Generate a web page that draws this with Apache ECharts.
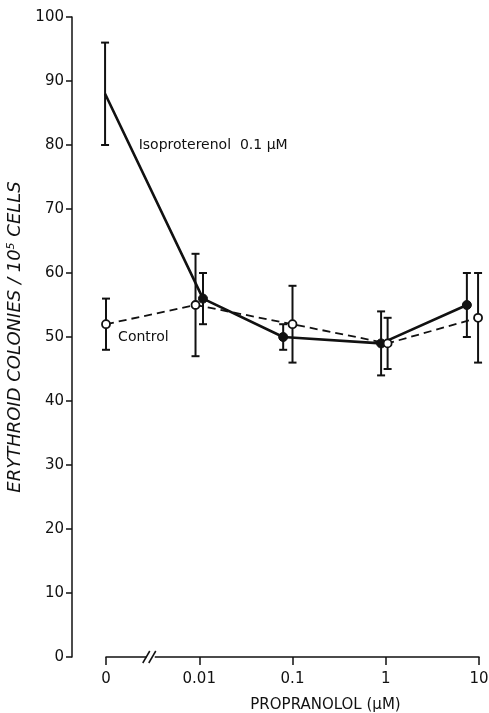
<!DOCTYPE html>
<html>
<head>
<meta charset="utf-8">
<script src="https://cdn.jsdelivr.net/npm/echarts@6/dist/echarts.min.js"></script>
<style>
  html, body { margin: 0; padding: 0; background: #fff; }
  #chart { width: 489px; height: 713px; }
</style>
</head>
<body>
<div id="chart"></div>
<script>
// x positions on a log10 scale; "0" sits one decade left of 0.01 (behind the axis break)
const tickPos = [-3, -2, -1, 0, 1];
const tickLabels = ['0', '0.01', '0.1', '1', '10'];

// Isoproterenol 0.1 uM (filled dots, solid line)
const isoX = [-3.01, -1.96, -1.10, -0.05, 0.87];
const isoY = [88, 56, 50, 49, 55];
const isoErr = [8, 4, 2, 5, 5];

// Control (open dots, dashed line)
const ctrlX = [-3, -2.04, -1.0, 0.02, 0.99];
const ctrlY = [52, 55, 52, 49, 53];
const ctrlErr = [4, 8, 6, 4, 7];

const yTicks = [0, 10, 20, 30, 40, 50, 60, 70, 80, 90, 100];

const font = 'DejaVu Sans';
const ink = '#111';

function pairs(xs, ys) {
  return xs.map((x, i) => [x, ys[i]]);
}
function errData(xs, ys, es) {
  return xs.map((x, i) => [x, ys[i] - es[i], ys[i] + es[i]]);
}

function errRender(params, api) {
  const x = api.value(0);
  const lo = api.coord([x, api.value(1)]);
  const hi = api.coord([x, api.value(2)]);
  const w = 4;
  const style = { stroke: ink, lineWidth: 2, fill: null };
  return {
    type: 'group',
    children: [
      { type: 'line', shape: { x1: lo[0], y1: lo[1], x2: hi[0], y2: hi[1] }, style: style },
      { type: 'line', shape: { x1: lo[0] - w, y1: lo[1], x2: lo[0] + w, y2: lo[1] }, style: style },
      { type: 'line', shape: { x1: hi[0] - w, y1: hi[1], x2: hi[0] + w, y2: hi[1] }, style: style }
    ]
  };
}

const chart = echarts.init(document.getElementById('chart'));

let option = {
  animation: false,
  backgroundColor: '#fff',
  grid: { left: 106, right: 10, top: 17, bottom: 56, containLabel: false, outerBoundsMode: 'none' },
  xAxis: {
    type: 'value',
    min: tickPos[0],
    max: tickPos[tickPos.length - 1],
    interval: 1,
    name: 'PROPRANOLOL (\u00b5M)',
    nameLocation: 'middle',
    nameGap: 41,
    nameTextStyle: { fontFamily: font, fontSize: 15, color: ink, padding: [0, 0, 0, 66] },
    axisLine: { lineStyle: { color: ink, width: 1.5 } },
    axisTick: { length: 8, lineStyle: { color: ink, width: 1.5 } },
    axisLabel: {
      fontFamily: font, fontSize: 15, color: ink, margin: 15,
      formatter: function (v) {
        const i = tickPos.indexOf(Math.round(v));
        return i >= 0 ? tickLabels[i] : '';
      }
    },
    splitLine: { show: false }
  },
  yAxis: {
    type: 'value',
    min: yTicks[0],
    max: yTicks[yTicks.length - 1],
    interval: 10,
    offset: 34,
    name: '{t|ERYTHROID COLONIES / 10}{s|5}{t| CELLS}',
    nameLocation: 'middle',
    nameRotate: 90,
    nameGap: 46,
    nameTextStyle: {
      rich: {
        t: { fontFamily: font, fontStyle: 'italic', fontSize: 18, color: ink },
        s: { fontFamily: font, fontStyle: 'italic', fontSize: 11, color: ink, verticalAlign: 'top', padding: [0, 0, 8, 0] }
      }
    },
    axisLine: { onZero: false, lineStyle: { color: ink, width: 1.5 } },
    axisTick: { length: 6, lineStyle: { color: ink, width: 1.5 } },
    axisLabel: { fontFamily: font, fontSize: 15, color: ink, margin: 8 },
    splitLine: { show: false }
  },
  series: [
    {
      name: 'Isoproterenol err',
      type: 'custom',
      renderItem: errRender,
      data: errData(isoX, isoY, isoErr),
      z: 2,
      silent: true
    },
    {
      name: 'Control err',
      type: 'custom',
      renderItem: errRender,
      data: errData(ctrlX, ctrlY, ctrlErr),
      z: 2,
      silent: true
    },
    {
      name: 'Control',
      type: 'line',
      data: pairs(ctrlX, ctrlY),
      symbol: 'circle',
      symbolSize: 8,
      lineStyle: { color: ink, width: 1.8, type: [8, 5] },
      itemStyle: { color: '#fff', borderColor: ink, borderWidth: 1.8 },
      z: 4
    },
    {
      name: 'Isoproterenol',
      type: 'line',
      data: pairs(isoX, isoY),
      symbol: 'circle',
      symbolSize: 9,
      lineStyle: { color: ink, width: 2.6 },
      itemStyle: { color: ink, borderColor: ink, borderWidth: 1 },
      z: 3
    }
  ]
};
chart.setOption(option);

// axis break mark and text labels
const brk = chart.convertToPixel({ xAxisIndex: 0, yAxisIndex: 0 }, [-2.52, 0]);
const isoLbl = chart.convertToPixel({ xAxisIndex: 0, yAxisIndex: 0 }, [-2.65, 80]);
const ctrlLbl = chart.convertToPixel({ xAxisIndex: 0, yAxisIndex: 0 }, [-2.87, 50]);

chart.setOption({
  graphic: [
    { type: 'rect', shape: { x: brk[0] - 4, y: brk[1] - 3, width: 8, height: 6 }, style: { fill: '#fff' }, z: 10 },
    { type: 'line', shape: { x1: brk[0] - 8, y1: brk[1] + 6, x2: brk[0] - 1, y2: brk[1] - 6 }, style: { stroke: ink, lineWidth: 1.5 }, z: 11 },
    { type: 'line', shape: { x1: brk[0] - 2, y1: brk[1] + 6, x2: brk[0] + 5, y2: brk[1] - 6 }, style: { stroke: ink, lineWidth: 1.5 }, z: 11 },
    {
      type: 'text', x: isoLbl[0], y: isoLbl[1], z: 12,
      style: { text: 'Isoproterenol  0.1 \u00b5M', fontFamily: font, fontSize: 14, fill: ink, verticalAlign: 'middle' }
    },
    {
      type: 'text', x: ctrlLbl[0], y: ctrlLbl[1], z: 12,
      style: { text: 'Control', fontFamily: font, fontSize: 14, fill: ink, verticalAlign: 'middle' }
    }
  ]
});
</script>
</body>
</html>
